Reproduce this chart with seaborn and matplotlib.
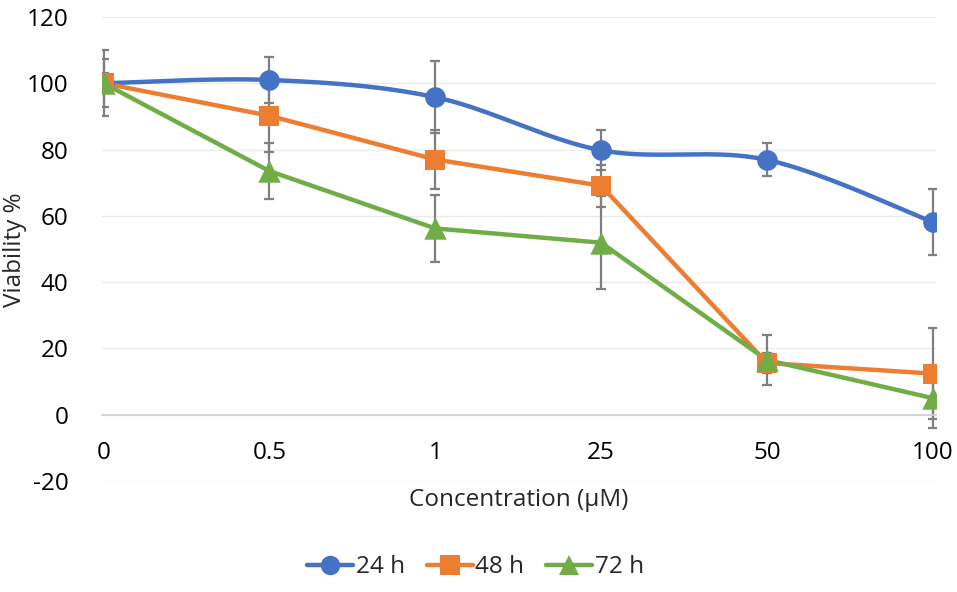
import numpy as np
import pandas as pd
import matplotlib
matplotlib.use("Agg")
import matplotlib.pyplot as plt
import seaborn as sns
from matplotlib.lines import Line2D

concentrations = ["0", "0.5", "1", "25", "50", "100"]
series_names = ["24 h", "48 h", "72 h"]
viability_24h = [100, 101, 95.8, 79.8, 76.9, 58.1]
viability_48h = [100, 90.2, 77, 69.1, 15.6, 12.4]
viability_72h = [100, 73.5, 56.2, 51.9, 16.5, 5]
err_24h = [10, 7, 10.8, 6, 5, 10]
err_48h = [3, 11, 9, 6.3, 3, 13.8]
err_72h = [7.3, 8.4, 10, 14, 7.5, 9]
y_ticks = [-20, 0, 20, 40, 60, 80, 100, 120]

colors = ["#4472C4", "#ED7D31", "#70AD47"]
markers = ["o", "s", "^"]
err_color = "#7F7F7F"


def smooth(xs, ys, n=40):
    # bezier curve through the points, like the smoothed line in excel
    pts = np.column_stack([xs, ys]).astype(float)
    padded = np.vstack([pts[0], pts, pts[-1]])
    out = []
    t = np.linspace(0, 1, n)[:, None]
    for i in range(len(pts) - 1):
        p0, p1, p2, p3 = padded[i], padded[i + 1], padded[i + 2], padded[i + 3]
        c1 = p1 + (p2 - p0) / 6
        c2 = p2 - (p3 - p1) / 6
        seg = (1 - t) ** 3 * p1 + 3 * (1 - t) ** 2 * t * c1 + 3 * (1 - t) * t ** 2 * c2 + t ** 3 * p2
        out.append(seg if i == 0 else seg[1:])
    return np.vstack(out)


x = np.arange(len(concentrations))
df = pd.DataFrame({
    "pos": np.tile(x, 3),
    "viability": viability_24h + viability_48h + viability_72h,
    "err": err_24h + err_48h + err_72h,
    "time": np.repeat(series_names, len(x)),
})

sns.set_style("white")
plt.rcParams["font.family"] = ["Open Sans", "DejaVu Sans"]
plt.rcParams["axes.unicode_minus"] = False
fs = 17.5

fig = plt.figure(figsize=(9.57, 5.92), dpi=100)
ax = fig.add_axes([0.1066, 0.1875, 0.8715, 0.7838])

for i, name in enumerate(series_names):
    sub = df[df["time"] == name]
    ax.errorbar(sub["pos"], sub["viability"], yerr=sub["err"], fmt="none",
                ecolor=err_color, elinewidth=1.6, capsize=3.8, capthick=1.6, zorder=2)

# 24 h is a smoothed line, the others are straight
curve = smooth(x, viability_24h)
ax.plot(curve[:, 0], curve[:, 1], color=colors[0], lw=3.2, zorder=3, solid_capstyle="round")
for i, name in enumerate(series_names[1:], start=1):
    sns.lineplot(data=df[df["time"] == name], x="pos", y="viability", color=colors[i],
                 lw=3.2, ax=ax, zorder=3, legend=False)

for i, name in enumerate(series_names):
    sub = df[df["time"] == name]
    sns.scatterplot(data=sub, x="pos", y="viability", color=colors[i], marker=markers[i],
                    s=220 if markers[i] != "^" else 260, linewidth=0, ax=ax, zorder=4 + i,
                    legend=False)

ax.set_xlim(-0.01, 5.02)
ax.set_ylim(-20, 120)
ax.set_yticks(y_ticks)
ax.set_xticks(x)
ax.set_xticklabels(concentrations)
ax.grid(axis="y", color="#EBEBEB", lw=1)
ax.set_axisbelow(True)
for s in ["top", "right", "left"]:
    ax.spines[s].set_visible(False)
ax.spines["bottom"].set_position(("data", 0))
ax.spines["bottom"].set_color("#D0D0D0")
ax.spines["bottom"].set_linewidth(1.2)
ax.tick_params(axis="both", length=0, labelsize=fs, colors="black")
ax.tick_params(axis="y", pad=24)
ax.tick_params(axis="x", pad=19)

ax.set_xlabel("")
ax.set_ylabel("")
fig.text(0.016, 0.578, "Viability %", rotation=90, ha="center", va="center", fontsize=fs)
fig.text(0.542, 0.155, "Concentration (\u00b5M)", ha="center", va="center", fontsize=fs)

handles = [Line2D([0], [0], color=colors[i], lw=3.2, marker=markers[i], markersize=14,
                  markeredgewidth=0) for i in range(3)]
fig.legend(handles, series_names, loc="center", bbox_to_anchor=(0.497, 0.042), ncol=3,
           frameon=False, fontsize=fs, handlelength=1.9, handletextpad=0.1, columnspacing=0.9)

fig.savefig("out.png", dpi=100)
